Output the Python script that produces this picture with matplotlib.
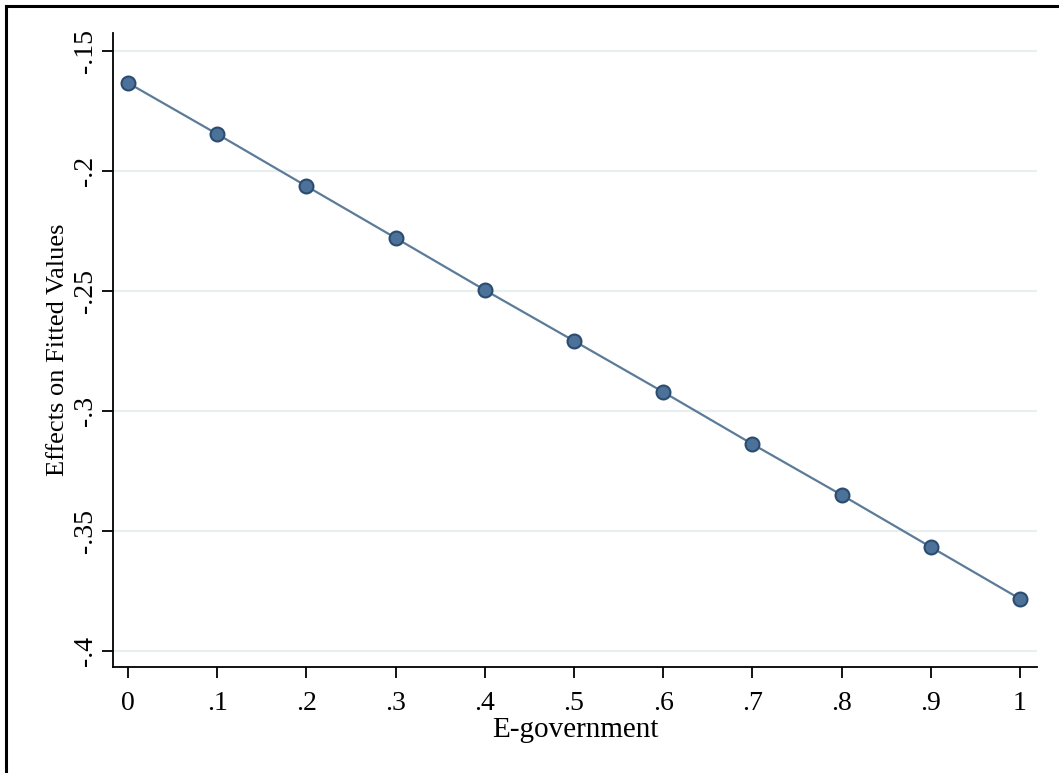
import matplotlib.pyplot as plt
from matplotlib.lines import Line2D

plt.rcParams['font.family'] = ['Liberation Serif', 'DejaVu Serif']

# data
egov = [0, .1, .2, .3, .4, .5, .6, .7, .8, .9, 1]
effects = [-0.1633, -0.1846, -0.2063, -0.2279, -0.2496, -0.2708,
           -0.2921, -0.3138, -0.3350, -0.3567, -0.3783]

xticks = [0, .1, .2, .3, .4, .5, .6, .7, .8, .9, 1]
xlabels = ['0', '.1', '.2', '.3', '.4', '.5', '.6', '.7', '.8', '.9', '1']
yticks = [-.15, -.2, -.25, -.3, -.35, -.4]
ylabels = ['-.15', '-.2', '-.25', '-.3', '-.35', '-.4']

fig = plt.figure(figsize=(10.59, 7.73), dpi=100)
ax = fig.add_axes([0.1067, 0.1371, 0.8725, 0.8202])

# outer frame (only left and top visible in the crop)
fig.add_artist(Line2D([6/1059, 6/1059], [0, 1 - 6/773], color='black', lw=2.2,
                      transform=fig.transFigure))
fig.add_artist(Line2D([6/1059, 1], [1 - 6/773, 1 - 6/773], color='black', lw=2.2,
                      transform=fig.transFigure))

ax.plot(egov, effects, color='#5c7b98', lw=1.6, marker='o', markersize=10,
        markerfacecolor='#4d7299', markeredgecolor='#2b4b70', markeredgewidth=1.5,
        zorder=3)

ax.set_xlim(-0.0168, 1.019)
ax.set_ylim(-0.4067, -0.1425)
ax.set_xticks(xticks)
ax.set_xticklabels(xlabels)
ax.set_yticks(yticks)
ax.set_yticklabels(ylabels, rotation=90, va='center')

ax.grid(axis='y', color='#e8eff1', lw=1.6)
ax.set_axisbelow(True)
for s in ['top', 'right']:
    ax.spines[s].set_visible(False)
for s in ['left', 'bottom']:
    ax.spines[s].set_linewidth(1.3)

ax.tick_params(axis='both', length=8, width=1.3, labelsize=20, direction='out')
ax.tick_params(axis='x', pad=9)
ax.tick_params(axis='y', pad=3)
ax.set_xlabel('E-government', fontsize=21, labelpad=1)
ax.set_ylabel('Effects on Fitted Values', fontsize=19, labelpad=3)

fig.savefig('out.png', dpi=100, facecolor='white')
